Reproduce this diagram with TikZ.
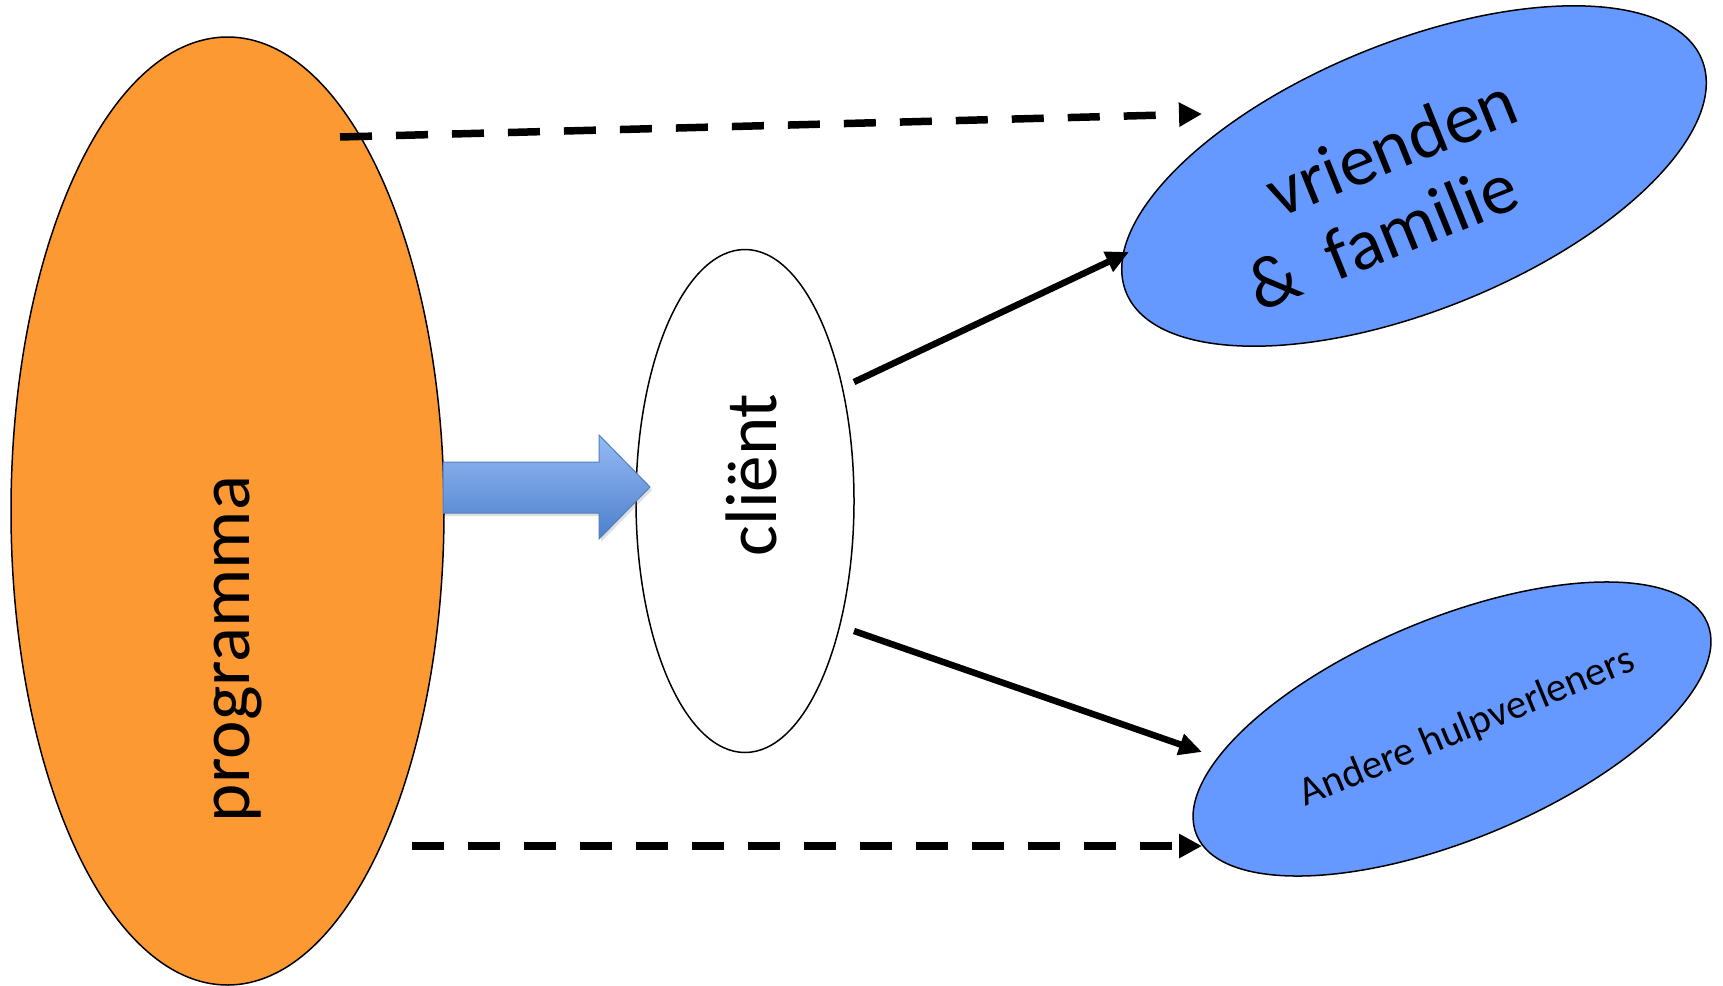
\documentclass[tikz,border=0pt]{standalone}
\usepackage{fontspec}
\setmainfont{Carlito}
\usetikzlibrary{shapes.geometric,arrows.meta,shadows}
\definecolor{orangefill}{HTML}{FD9933}
\definecolor{bluefill}{HTML}{6699FF}
\definecolor{arrowtop}{HTML}{95BAF5}
\definecolor{arrowbot}{HTML}{4D7FCB}
\definecolor{arrowedge}{HTML}{4F81BD}
\begin{document}
\begin{tikzpicture}[x=1pt,y=-1pt,
  blob/.style={ellipse, draw=black, line width=1.5pt, inner sep=0pt},
  lbl/.style={font=\fontsize{73}{88}\selectfont, inner sep=0pt},
  dasharrow/.style={line width=7.5pt, dash pattern=on 32pt off 24pt, -{Triangle[length=23pt,width=23pt]}},
  solidarrow/.style={line width=6.5pt, -{Triangle[length=23pt,width=21pt]}}]
\useasboundingbox (0,0) rectangle (1723,985);
\node[blob, fill=orangefill, minimum width=433pt, minimum height=948pt] (prog) at (227.5,511) {};
\node[blob, fill=white, minimum width=218pt, minimum height=503pt] (client) at (745,501) {};
\node[blob, fill=bluefill, rotate=22, minimum width=621pt, minimum height=268pt] (friends) at (1414,176) {};
\node[blob, fill=bluefill, rotate=22.5, minimum width=553pt, minimum height=221pt] (helpers) at (1452,729) {};
% big block arrow from programma to client
\path[draw=arrowedge, line width=1pt, top color=arrowtop, bottom color=arrowbot,
  drop shadow={opacity=0.25, shadow xshift=2pt, shadow yshift=-3pt}]
  (443,462) -- (599,462) -- (599,435) -- (650,487) -- (599,539) -- (599,513) -- (443,513) -- cycle;
% connector ends
\coordinate (d1s) at (340,137);
\coordinate (d1e) at (1202,114);
\coordinate (d2s) at (412,846);
\coordinate (d2e) at (1202,846);
\coordinate (s1s) at (854,382);
\coordinate (s1e) at (1129,252);
\coordinate (s2s) at (854,631);
\coordinate (s2e) at (1202,752);
\draw[dasharrow] (d1s) -- (d1e);
\draw[dasharrow] (d2s) -- (d2e);
\draw[solidarrow] (s1s) -- (s1e);
\draw[solidarrow] (s2s) -- (s2e);
% texts
\node[lbl, rotate=90, anchor=base] (progtxt) at (249,649) {programma};
\node[lbl, rotate=90, anchor=base] (clienttxt) at (776,475) {cliënt};
\node[lbl, rotate=22] (fam1) at (1391,146) {vrienden};
\node[lbl, rotate=22] (fam2) at (1382,236) {\&\ \ familie};
\node[lbl, rotate=22.5, font=\fontsize{41}{50}\selectfont] (helptxt) at (1467,728) {Andere hulpverleners};
\end{tikzpicture}
\end{document}
